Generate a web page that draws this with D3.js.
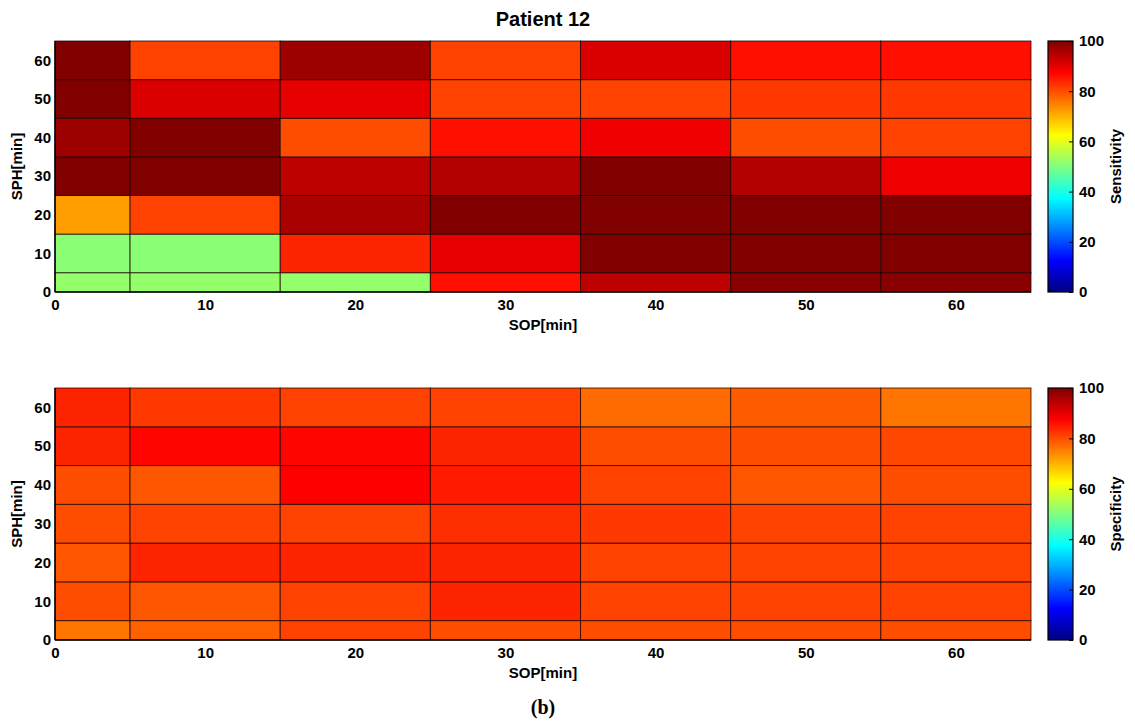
<!DOCTYPE html>
<html>
<head>
<meta charset="utf-8">
<script src="https://cdn.jsdelivr.net/npm/d3@7"></script>
<style>
  body { margin: 0; background: #fff; }
  text { font-family: "Liberation Sans", Arial, sans-serif; font-weight: bold; }
</style>
</head>
<body>
<svg class="heat" width="1135" height="726"></svg>
<script>
// cell edges (minutes)
const sopEdges = [0, 5, 15, 25, 35, 45, 55, 65];
const sphEdges = [0, 5, 15, 25, 35, 45, 55, 65];
const tickValues = [0, 10, 20, 30, 40, 50, 60];
const cbTicks = [0, 20, 40, 60, 80, 100];

// rows listed from SPH 0 upward, columns SOP 0 -> 60
const sensitivity = [
    [52, 52, 52, 86, 94, 99, 99],
    [51, 51, 84, 90, 100, 100, 100],
    [72, 81, 96, 100, 100, 100, 100],
    [100, 100, 94, 95, 100, 95, 89],
    [97, 100, 80, 86, 89, 80, 81],
    [100, 91, 90, 81, 81, 82, 82],
    [100, 81, 97, 81, 91, 86, 86]
];

const specificity = [
    [76, 78, 81, 80, 80, 80, 80],
    [80, 79, 81, 84, 81, 81, 81],
    [79, 84, 84, 84, 81, 81, 81],
    [80, 81, 81, 83, 82, 81, 81],
    [80, 79, 87.5, 85, 81, 79, 80],
    [84, 87, 87, 84, 80, 80, 80.5],
    [84, 82, 81, 81, 77, 78.5, 76]
];

const svg = d3.select('.heat');

const plotLeft = 55, plotRight = 1031;
const cbLeft = 1048, cbWidth = 25;

// MATLAB jet
const jet = d3.scaleLinear()
    .domain([0, 12.5, 37.5, 62.5, 87.5, 100])
    .range(['#000080', '#0000ff', '#00ffff', '#ffff00', '#ff0000', '#800000'])
    .clamp(true);

const x = d3.scaleLinear().domain([0, 65]).range([plotLeft, plotRight]);

svg.append('text')
    .attr('x', (plotLeft + plotRight) / 2)
    .attr('y', 26)
    .attr('text-anchor', 'middle')
    .style('font-size', '20px')
    .text('Patient 12');

const grad = svg.append('defs').append('linearGradient')
    .attr('id', 'jetGrad')
    .attr('x1', 0).attr('y1', 1).attr('x2', 0).attr('y2', 0);
grad.selectAll('stop')
    .data(d3.range(0, 101, 2.5))
    .join('stop')
    .attr('offset', d => d + '%')
    .attr('stop-color', d => jet(d));

const drawPanel = (values, top, bottom, cbLabel) => {
    const y = d3.scaleLinear().domain([0, 65]).range([bottom, top]);

    const cells = [];
    values.forEach((row, i) => row.forEach((v, j) => cells.push({ i, j, v })));

    const g = svg.append('g');

    g.selectAll('rect.cell')
        .data(cells)
        .join('rect')
        .attr('class', 'cell')
        .attr('x', d => x(sopEdges[d.j]))
        .attr('y', d => y(sphEdges[d.i + 1]))
        .attr('width', d => x(sopEdges[d.j + 1]) - x(sopEdges[d.j]))
        .attr('height', d => y(sphEdges[d.i]) - y(sphEdges[d.i + 1]))
        .attr('fill', d => jet(d.v))
        .attr('stroke', '#1a0000')
        .attr('stroke-opacity', 0.75)
        .attr('stroke-width', 1);

    // left and bottom axis lines
    g.append('line')
        .attr('x1', plotLeft).attr('x2', plotLeft)
        .attr('y1', top).attr('y2', bottom)
        .attr('stroke', '#000').attr('stroke-width', 1.5);
    g.append('line')
        .attr('x1', plotLeft).attr('x2', plotRight)
        .attr('y1', bottom).attr('y2', bottom)
        .attr('stroke', '#000').attr('stroke-width', 1.5);

    const xAxis = d3.axisBottom(x).tickValues(tickValues).tickSize(0).tickPadding(7);
    const xAxisG = g.append('g')
        .attr('transform', `translate(0, ${bottom})`)
        .call(xAxis);
    xAxisG.select('.domain').remove();
    xAxisG.selectAll('text').style('font-size', '15px').attr('fill', '#000');

    const yAxis = d3.axisLeft(y).tickValues(tickValues).tickSize(0).tickPadding(4);
    const yAxisG = g.append('g')
        .attr('transform', `translate(${plotLeft}, 0)`)
        .call(yAxis);
    yAxisG.select('.domain').remove();
    yAxisG.selectAll('text').style('font-size', '15px').attr('fill', '#000');

    g.append('text')
        .attr('x', (plotLeft + plotRight) / 2)
        .attr('y', bottom + 38)
        .attr('text-anchor', 'middle')
        .style('font-size', '15px')
        .text('SOP[min]');

    g.append('text')
        .attr('transform', `translate(22, ${(top + bottom) / 2}) rotate(-90)`)
        .attr('text-anchor', 'middle')
        .style('font-size', '15px')
        .text('SPH[min]');

    // colorbar
    const cb = d3.scaleLinear().domain([0, 100]).range([bottom, top]);
    g.append('rect')
        .attr('x', cbLeft).attr('y', top)
        .attr('width', cbWidth).attr('height', bottom - top)
        .attr('fill', 'url(#jetGrad)')
        .attr('stroke', '#000').attr('stroke-width', 1.2);

    const cbAxis = d3.axisRight(cb).tickValues(cbTicks).tickSize(-4).tickPadding(6);
    const cbG = g.append('g')
        .attr('transform', `translate(${cbLeft + cbWidth}, 0)`)
        .call(cbAxis);
    cbG.select('.domain').remove();
    cbG.selectAll('text').style('font-size', '15px').attr('fill', '#000');

    g.append('text')
        .attr('transform', `translate(1121, ${(top + bottom) / 2}) rotate(-90)`)
        .attr('text-anchor', 'middle')
        .style('font-size', '15px')
        .text(cbLabel);
};

drawPanel(sensitivity, 41, 292, 'Sensitivity');
drawPanel(specificity, 388, 640, 'Specificity');

svg.append('text')
    .attr('x', 543)
    .attr('y', 714)
    .attr('text-anchor', 'middle')
    .style('font-family', '"Liberation Serif", "Times New Roman", serif')
    .style('font-size', '20px')
    .text('(b)');
</script>
</body>
</html>
